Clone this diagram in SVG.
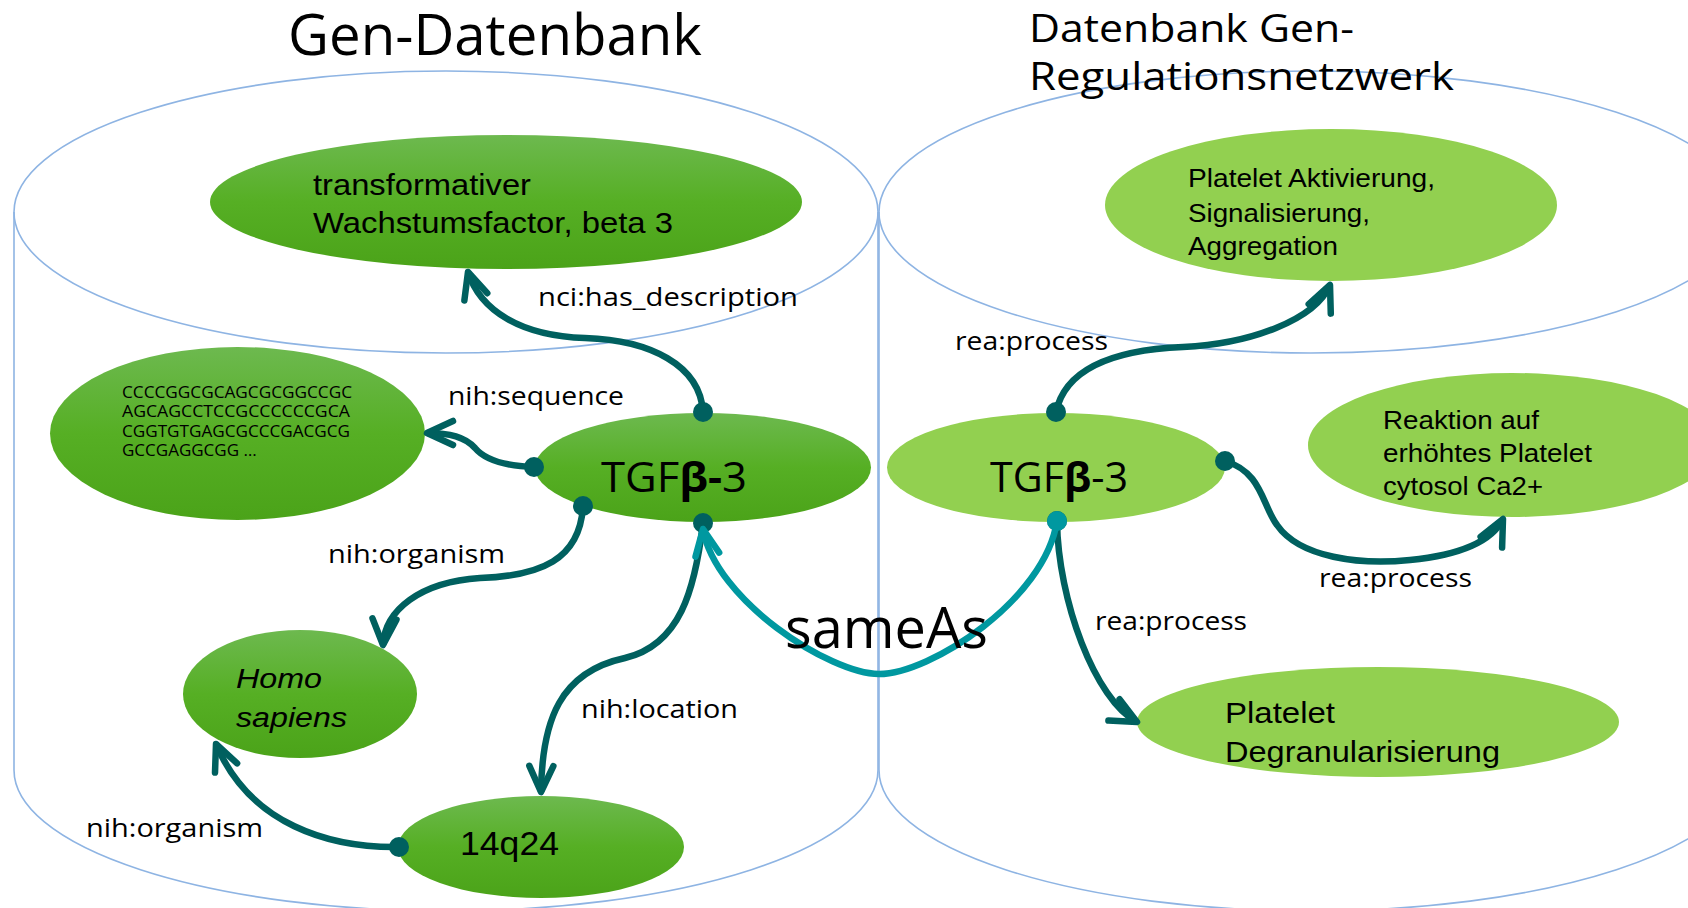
<svg xmlns="http://www.w3.org/2000/svg" width="1688" height="908" viewBox="0 0 1688 908">
<defs>
<style>
.cyl{fill:none;stroke:#8EB4E3;stroke-width:1.6}
.dk{fill:url(#gDark)}
.lt{fill:#92D050}
.title{font-family:"Open Sans","DejaVu Sans",sans-serif;fill:#000}
.lbl{font-family:"Open Sans","DejaVu Sans",sans-serif;font-size:25px;fill:#000}
.nt{font-family:"Liberation Sans",Arial,sans-serif;fill:#000}
.tgf{font-family:"Open Sans","DejaVu Sans",sans-serif;font-size:42px;fill:#000}
.seq{font-family:"Open Sans","DejaVu Sans",sans-serif;font-size:17px;fill:#000}
.edge{fill:none;stroke:#00605F;stroke-width:6.5}
.same{fill:none;stroke:#0098A0;stroke-width:6.5}
</style>
<linearGradient id="gDark" x1="0" y1="0" x2="0" y2="1">
<stop offset="0" stop-color="#6DB94F"/>
<stop offset="0.5" stop-color="#56AF24"/>
<stop offset="1" stop-color="#4BA319"/>
</linearGradient>
<marker id="arrD" markerUnits="userSpaceOnUse" viewBox="-40 -20 50 40" markerWidth="50" markerHeight="40" refX="0" refY="0" orient="auto" overflow="visible">
<path d="M -26 -12 L 0 0 L -26 12" fill="none" stroke="#00605F" stroke-width="6.5" stroke-linecap="round" stroke-linejoin="round"/>
</marker>
<marker id="arrL" markerUnits="userSpaceOnUse" viewBox="-40 -20 50 40" markerWidth="50" markerHeight="40" refX="0" refY="0" orient="auto" overflow="visible">
<path d="M -26 -12 L 0 0 L -26 12" fill="none" stroke="#0098A0" stroke-width="6.5" stroke-linecap="round" stroke-linejoin="round"/>
</marker>
<marker id="dotD" markerUnits="userSpaceOnUse" viewBox="-12 -12 24 24" markerWidth="24" markerHeight="24" refX="0" refY="0" overflow="visible">
<circle cx="0" cy="0" r="10" fill="#00605F"/>
</marker>
<marker id="dotL" markerUnits="userSpaceOnUse" viewBox="-12 -12 24 24" markerWidth="24" markerHeight="24" refX="0" refY="0" overflow="visible">
<circle cx="0" cy="0" r="10" fill="#0098A0"/>
</marker>
</defs>
<rect x="0" y="0" width="1688" height="908" fill="#FFFFFF"/>

<g id="cylinder-left">
<ellipse class="cyl" cx="446" cy="212" rx="432" ry="141"/>
<path class="cyl" d="M 14 212 L 14 770 A 432 141 0 0 0 878 770 L 878 212"/>
</g>
<g id="cylinder-right">
<ellipse class="cyl" cx="1311" cy="212" rx="432" ry="141"/>
<path class="cyl" d="M 879 212 L 879 770 A 432 141 0 0 0 1743 770 L 1743 212"/>
</g>

<g id="titles">
<text class="title" x="288" y="55" font-size="56" textLength="414" lengthAdjust="spacingAndGlyphs">Gen-Datenbank</text>
<text class="title" x="1029" y="42" font-size="38" textLength="325" lengthAdjust="spacingAndGlyphs">Datenbank Gen-</text>
<text class="title" x="1029" y="90" font-size="38" textLength="425" lengthAdjust="spacingAndGlyphs">Regulationsnetzwerk</text>
</g>

<g id="node-description">
<ellipse class="dk" cx="506" cy="202" rx="296" ry="67"/>
<text class="nt" font-size="29"><tspan x="313" y="195" textLength="218" lengthAdjust="spacingAndGlyphs">transformativer</tspan><tspan x="313" y="233" textLength="360" lengthAdjust="spacingAndGlyphs">Wachstumsfactor, beta 3</tspan></text>
</g>

<g id="node-sequence">
<ellipse class="dk" cx="237.5" cy="433.5" rx="187.5" ry="86.5"/>
<text class="seq"><tspan x="122" y="398" textLength="230" lengthAdjust="spacingAndGlyphs">CCCCGGCGCAGCGCGGCCGC</tspan><tspan x="122" y="417" textLength="228" lengthAdjust="spacingAndGlyphs">AGCAGCCTCCGCCCCCCGCA</tspan><tspan x="122" y="437" textLength="228" lengthAdjust="spacingAndGlyphs">CGGTGTGAGCGCCCGACGCG</tspan><tspan x="122" y="456">GCCGAGGCGG …</tspan></text>
</g>

<g id="node-tgf-left">
<ellipse class="dk" cx="703" cy="467.5" rx="168" ry="54.5"/>
<text class="tgf" x="601" y="492" textLength="146" lengthAdjust="spacingAndGlyphs">TGF<tspan font-weight="bold">β-</tspan>3</text>
</g>

<g id="node-homo">
<ellipse class="dk" cx="300" cy="694" rx="117" ry="64"/>
<text class="nt" font-size="27" font-style="italic"><tspan x="236" y="688" textLength="86" lengthAdjust="spacingAndGlyphs">Homo</tspan><tspan x="236" y="727" textLength="111" lengthAdjust="spacingAndGlyphs">sapiens</tspan></text>
</g>

<g id="node-14q24">
<ellipse class="dk" cx="541" cy="847" rx="143" ry="51"/>
<text class="nt" font-size="34" x="460" y="855" textLength="99" lengthAdjust="spacingAndGlyphs">14q24</text>
</g>

<g id="node-aktivierung">
<ellipse class="lt" cx="1331" cy="205" rx="226" ry="76"/>
<text class="nt" font-size="26"><tspan x="1188" y="187" textLength="247" lengthAdjust="spacingAndGlyphs">Platelet Aktivierung,</tspan><tspan x="1188" y="222" textLength="182" lengthAdjust="spacingAndGlyphs">Signalisierung,</tspan><tspan x="1188" y="255" textLength="150" lengthAdjust="spacingAndGlyphs">Aggregation</tspan></text>
</g>

<g id="node-reaktion">
<ellipse class="lt" cx="1512" cy="445" rx="204" ry="72"/>
<text class="nt" font-size="25"><tspan x="1383" y="429" textLength="156" lengthAdjust="spacingAndGlyphs">Reaktion auf</tspan><tspan x="1383" y="462" textLength="209" lengthAdjust="spacingAndGlyphs">erhöhtes Platelet</tspan><tspan x="1383" y="495" textLength="160" lengthAdjust="spacingAndGlyphs">cytosol Ca2+</tspan></text>
</g>

<g id="node-tgf-right">
<ellipse class="lt" cx="1056" cy="467.5" rx="169" ry="54.5"/>
<text class="tgf" x="990" y="492" textLength="138" lengthAdjust="spacingAndGlyphs">TGF<tspan font-weight="bold">β</tspan>-3</text>
</g>

<g id="node-degranular">
<ellipse class="lt" cx="1378" cy="722" rx="241" ry="55"/>
<text class="nt" font-size="29"><tspan x="1225" y="723" textLength="110" lengthAdjust="spacingAndGlyphs">Platelet</tspan><tspan x="1225" y="762" textLength="275" lengthAdjust="spacingAndGlyphs">Degranularisierung</tspan></text>
</g>

<g id="connectors">
<path class="edge" marker-start="url(#dotD)" marker-end="url(#arrD)" d="M 703 412 C 700 365, 650 340, 585 338 C 520 336, 480 310, 468 272"/>
<path class="edge" marker-start="url(#dotD)" marker-end="url(#arrD)" d="M 534 467 C 505 466, 485 460, 475 448 C 465 437, 450 433, 427 433"/>
<path class="edge" marker-start="url(#dotD)" marker-end="url(#arrD)" d="M 583 506 C 580 560, 540 576, 480 578 C 420 582, 385 610, 383 645"/>
<path class="edge" marker-start="url(#dotD)" marker-end="url(#arrD)" d="M 703 523 C 695 590, 680 645, 625 658 C 560 672, 542 720, 541 792"/>
<path class="edge" marker-start="url(#dotD)" marker-end="url(#arrD)" d="M 399 847 C 330 848, 250 825, 216 744"/>
<path class="edge" marker-start="url(#dotD)" marker-end="url(#arrD)" d="M 1056 412 C 1065 370, 1110 350, 1183 347 C 1250 344, 1315 320, 1330 285"/>
<path class="edge" marker-start="url(#dotD)" marker-end="url(#arrD)" d="M 1225 461 C 1262 472, 1262 505, 1277 525 C 1300 558, 1360 565, 1410 560 C 1450 556, 1490 545, 1503 519"/>
<path class="edge" marker-start="url(#dotD)" marker-end="url(#arrD)" d="M 1057 521 C 1058 600, 1095 700, 1137 722"/>
<path class="same" marker-start="url(#dotL)" marker-end="url(#arrL)" d="M 1057 521 C 1045 600, 930 674, 879 674 C 830 674, 715 600, 703 529"/>
</g>

<g id="edge-labels">
<text class="lbl" x="538" y="306" textLength="260" lengthAdjust="spacingAndGlyphs">nci:has_description</text>
<text class="lbl" x="448" y="405" textLength="176" lengthAdjust="spacingAndGlyphs">nih:sequence</text>
<text class="lbl" x="328" y="563" textLength="177" lengthAdjust="spacingAndGlyphs">nih:organism</text>
<text class="lbl" x="581" y="718" textLength="157" lengthAdjust="spacingAndGlyphs">nih:location</text>
<text class="lbl" x="86" y="837" textLength="177" lengthAdjust="spacingAndGlyphs">nih:organism</text>
<text class="lbl" x="955" y="350" textLength="153" lengthAdjust="spacingAndGlyphs">rea:process</text>
<text class="lbl" x="1319" y="587" textLength="153" lengthAdjust="spacingAndGlyphs">rea:process</text>
<text class="lbl" x="1095" y="630" textLength="152" lengthAdjust="spacingAndGlyphs">rea:process</text>
<text class="title" x="785" y="648" font-size="56" textLength="203" lengthAdjust="spacingAndGlyphs">sameAs</text>
</g>
</svg>
